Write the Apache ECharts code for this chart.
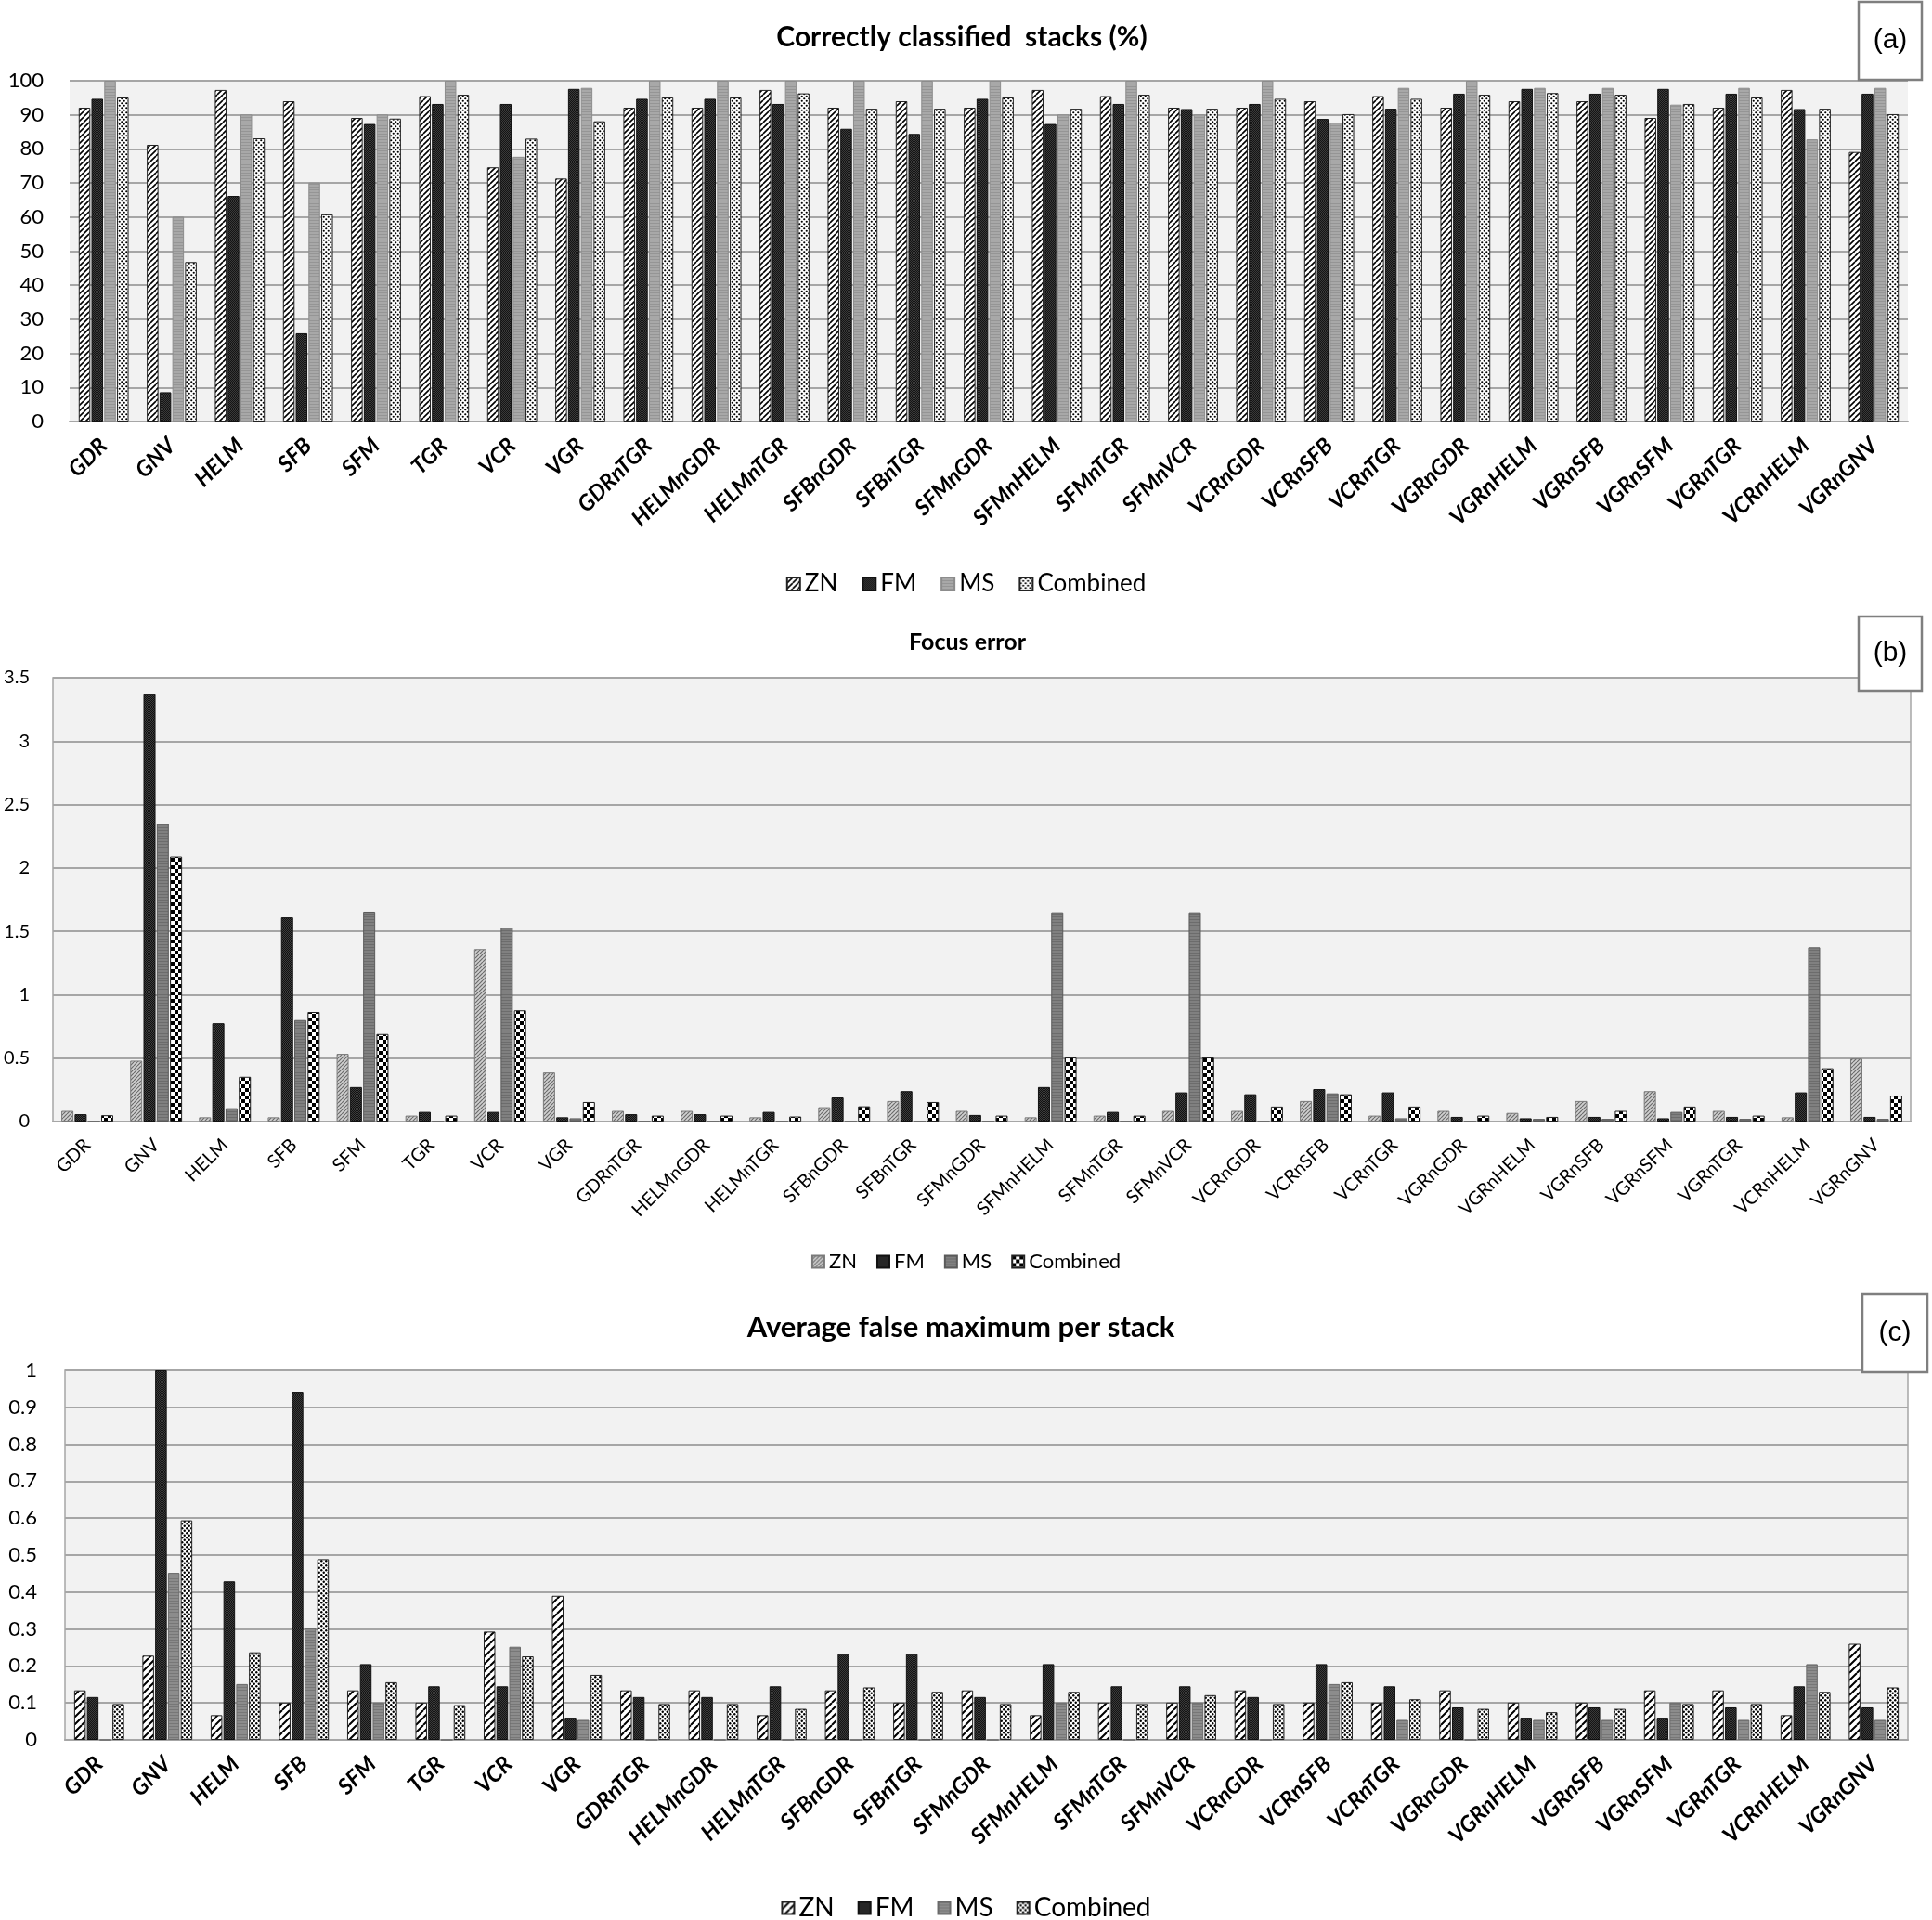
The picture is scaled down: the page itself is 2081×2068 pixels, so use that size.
<!DOCTYPE html>
<html><head><meta charset="utf-8">
<script src="https://cdn.jsdelivr.net/npm/echarts@6/dist/echarts.min.js"></script>
<style>html,body{margin:0;padding:0;background:#fff;overflow:hidden;width:2081px;height:2068px;}.c{position:absolute;left:0;width:2081px;}</style>
</head><body>
<div id="ca" class="c" style="top:0;height:660px"></div>
<div id="cb" class="c" style="top:660px;height:710px"></div>
<div id="cc" class="c" style="top:1370px;height:698px"></div>
<script>
const categories = ['GDR','GNV','HELM','SFB','SFM','TGR','VCR','VGR','GDRnTGR','HELMnGDR','HELMnTGR','SFBnGDR','SFBnTGR','SFMnGDR','SFMnHELM','SFMnTGR','SFMnVCR','VCRnGDR','VCRnSFB','VCRnTGR','VGRnGDR','VGRnHELM','VGRnSFB','VGRnSFM','VGRnTGR','VCRnHELM','VGRnGNV'];
const seriesNames = ['ZN','FM','MS','Combined'];

// (a) Correctly classified stacks (%)
const aZN   = [92.1,81.2,97.3,94.0,89.1,95.5,74.6,71.3,92.1,92.1,97.3,92.1,94.0,92.1,97.3,95.5,92.1,92.1,94.0,95.5,92.1,94.0,94.0,89.1,92.1,97.3,79.1];
const aFM   = [94.7,8.6,66.2,25.9,87.3,93.2,93.2,97.6,94.7,94.7,93.2,85.9,84.4,94.7,87.3,93.2,91.7,93.2,88.8,91.8,96.2,97.6,96.2,97.6,96.2,91.7,96.2];
const aMS   = [100,60.1,90.1,70.1,90.1,100,77.7,97.9,100,100,100,100,100,100,90.1,100,90.1,100,87.7,97.9,100,97.9,97.9,93.0,97.9,82.8,97.9];
const aComb = [95.1,46.8,83.1,60.8,88.9,95.9,83.0,88.1,95.1,95.1,96.3,91.8,91.8,95.1,91.8,95.9,91.8,94.7,90.2,94.7,95.9,96.4,95.9,93.2,95.1,91.8,90.2];

// (b) Focus error
const bZN   = [0.084,0.48,0.034,0.034,0.534,0.047,1.36,0.387,0.084,0.084,0.034,0.113,0.162,0.084,0.034,0.047,0.084,0.084,0.162,0.047,0.084,0.068,0.162,0.24,0.084,0.034,0.497];
const bFM   = [0.058,3.37,0.775,1.61,0.272,0.076,0.076,0.034,0.058,0.058,0.076,0.19,0.24,0.052,0.272,0.076,0.23,0.215,0.256,0.23,0.037,0.026,0.037,0.026,0.037,0.23,0.037];
const bMS   = [0,2.35,0.105,0.80,1.655,0,1.53,0.026,0,0,0,0,0,0,1.65,0,1.65,0,0.222,0.026,0,0.021,0.021,0.076,0.021,1.374,0.021];
const bComb = [0.05,2.09,0.353,0.864,0.69,0.047,0.877,0.154,0.047,0.047,0.04,0.12,0.154,0.047,0.505,0.047,0.505,0.118,0.215,0.118,0.047,0.037,0.084,0.118,0.047,0.42,0.204];

// (c) Average false maximum per stack
const cZN   = [0.134,0.228,0.067,0.101,0.134,0.101,0.293,0.39,0.134,0.134,0.067,0.134,0.101,0.134,0.067,0.101,0.101,0.134,0.101,0.101,0.134,0.101,0.101,0.134,0.134,0.067,0.26];
const cFM   = [0.116,1.0,0.429,0.942,0.205,0.145,0.145,0.06,0.116,0.116,0.145,0.232,0.232,0.116,0.205,0.145,0.145,0.116,0.205,0.145,0.088,0.06,0.088,0.06,0.088,0.145,0.088];
const cMS   = [0,0.452,0.151,0.302,0.101,0,0.252,0.054,0,0,0,0,0,0,0.101,0,0.101,0,0.151,0.054,0,0.054,0.054,0.101,0.054,0.205,0.054];
const cComb = [0.097,0.594,0.237,0.489,0.156,0.094,0.226,0.176,0.097,0.097,0.084,0.142,0.13,0.097,0.13,0.097,0.121,0.097,0.156,0.11,0.084,0.075,0.084,0.097,0.097,0.13,0.142];

const F = 'Lato, "Open Sans", sans-serif';

function mk(w,h,draw){const c=document.createElement('canvas');c.width=w;c.height=h;const g=c.getContext('2d');draw(g,w,h);return {image:c,repeat:'repeat'};}
function hatch(bg,fg,s,lw){return mk(s,s,(g)=>{g.fillStyle=bg;g.fillRect(0,0,s,s);g.strokeStyle=fg;g.lineWidth=lw;g.beginPath();for(let k=-1;k<=1;k++){g.moveTo(k*s,s);g.lineTo(k*s+s,0);}g.stroke();});}
function checker(a,b,c){return mk(2*c,2*c,(g)=>{g.fillStyle=a;g.fillRect(0,0,2*c,2*c);g.fillStyle=b;g.fillRect(0,0,c,c);g.fillRect(c,c,c,c);});}
function hlines(bg,fg,s,lw){return mk(2,s,(g)=>{g.fillStyle=bg;g.fillRect(0,0,2,s);g.fillStyle=fg;g.fillRect(0,0,2,lw);});}
function dots(bg,fg,s,r){return mk(s,s,(g)=>{g.fillStyle=bg;g.fillRect(0,0,s,s);g.fillStyle=fg;[[s/4,s/4],[3*s/4,3*s/4]].forEach(p=>{g.beginPath();g.arc(p[0],p[1],r,0,Math.PI*2);g.fill();});});}

function build(cfg){
  const bx=cfg.box;
  return {
    animation:false,
    title:{text:cfg.title,left:cfg.titleX,textAlign:'center',top:cfg.titleTop,textStyle:{fontFamily:F,fontSize:cfg.titleSize,fontWeight:'bold',color:'#000'}},
    legend:{data:seriesNames,left:'center',top:cfg.legendTop,icon:'rect',itemWidth:cfg.icon,itemHeight:cfg.icon,itemGap:cfg.legendGap,
      textStyle:{fontFamily:F,fontSize:cfg.legendSize,color:'#000'}},
    grid:{left:cfg.grid[0],right:cfg.grid[1],top:cfg.grid[2],bottom:cfg.grid[3],show:true,backgroundColor:'#f2f2f2',
      borderColor:'#a6a6a6',borderWidth:cfg.border},
    xAxis:{type:'category',data:categories,axisTick:{show:false},
      axisLine:{lineStyle:{color:'#a6a6a6',width:2}},
      axisLabel:{interval:0,rotate:45,margin:cfg.xMargin,fontFamily:F,fontSize:cfg.xSize,fontWeight:cfg.xWeight,fontStyle:cfg.xStyle,color:'#000'}},
    yAxis:{type:'value',min:0,max:cfg.max,interval:cfg.interval,axisLine:{show:false},axisTick:{show:false},
      splitLine:{lineStyle:{color:'#a6a6a6',width:2}},
      axisLabel:{margin:cfg.yMargin,fontFamily:F,fontSize:cfg.ySize,color:'#000'}},
    series:seriesNames.map((n,i)=>({type:'bar',name:n,data:cfg.data[i],barWidth:cfg.barWidth,barGap:'10%',
      itemStyle:{color:cfg.pat[i],borderColor:cfg.bc[i],borderWidth:1}})),
    graphic:[
      {type:'rect',z:100,shape:{x:bx[0],y:bx[1],width:bx[2],height:bx[3]},style:{fill:'#fff',stroke:'#7f7f7f',lineWidth:2.5}},
      {type:'text',z:101,x:bx[0]+bx[2]/2,y:bx[1]+bx[3]/2,style:{text:cfg.tag,fontFamily:'"Liberation Sans", Arial, sans-serif',fontSize:30,fill:'#000',align:'center',verticalAlign:'middle'}}
    ]
  };
}

const ca = echarts.init(document.getElementById('ca'));
ca.setOption(build({
  title:'Correctly classified  stacks (%)',titleX:1031,titleTop:20,titleSize:30,
  legendTop:611,legendSize:26,legendGap:26,icon:14,
  grid:[75,26,87,206],border:0,
  xMargin:22,xSize:24,xWeight:'bold',xStyle:'italic',
  max:100,interval:10,yMargin:28,ySize:22,barWidth:12.5,
  data:[aZN,aFM,aMS,aComb],
  pat:[hatch('#ffffff','#000000',6,1.6),checker('#141414','#3a3a3a',1),hlines('#a8a8a8','#959595',3,1),dots('#ffffff','#000000',5,1.1)],
  bc:['#222','#111','#8c8c8c','#222'],
  box:[2002,2,68,84],tag:'(a)'
}));

const cb = echarts.init(document.getElementById('cb'));
cb.setOption(build({
  title:'Focus error',titleX:1037,titleTop:14,titleSize:25,
  legendTop:683,legendSize:22,legendGap:21,icon:13,
  grid:[57,23,70,162],border:1.5,
  xMargin:22,xSize:20,xWeight:'normal',xStyle:'normal',
  max:3.5,interval:0.5,yMargin:25,ySize:20,barWidth:13,
  data:[bZN,bFM,bMS,bComb],
  pat:[hatch('#d0d0d0','#6a6a6a',4,1.2),checker('#111111','#3c3c3c',1),hlines('#808080','#6c6c6c',3,1),checker('#ffffff','#000000',4)],
  bc:['#7a7a7a','#111','#5a5a5a','#222'],
  box:[2002,4,68,80],tag:'(b)'
}));

const cc = echarts.init(document.getElementById('cc'));
cc.setOption(build({
  title:'Average false maximum per stack',titleX:1030,titleTop:39,titleSize:31,
  legendTop:666,legendSize:28,legendGap:25,icon:13,
  grid:[70,26,106,194],border:1.5,
  xMargin:22,xSize:24,xWeight:'bold',xStyle:'italic',
  max:1,interval:0.1,yMargin:30,ySize:22,barWidth:12.5,
  data:[cZN,cFM,cMS,cComb],
  pat:[hatch('#ffffff','#000000',8,2),checker('#141414','#3a3a3a',1),hlines('#8c8c8c','#777777',3,1),dots('#ffffff','#000000',5,1.2)],
  bc:['#222','#111','#6a6a6a','#222'],
  box:[2006,24,70,84],tag:'(c)'
}));
</script>
</body></html>
